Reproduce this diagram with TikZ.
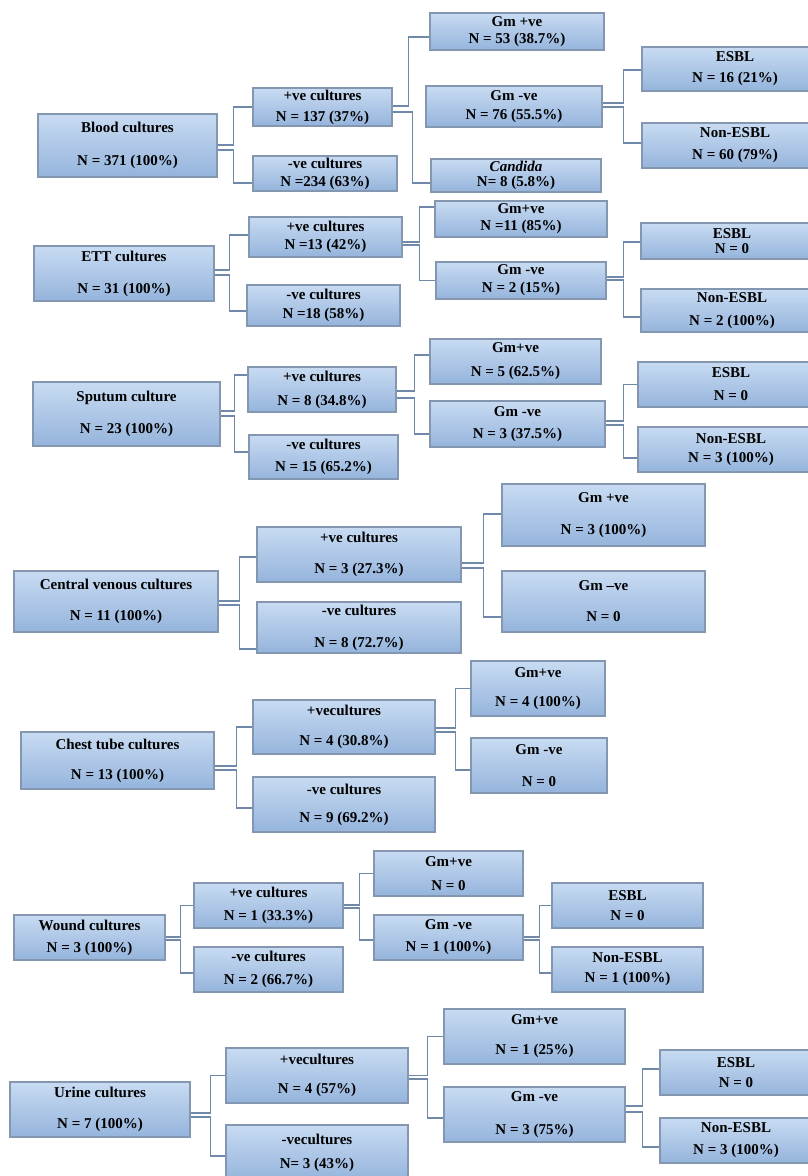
\documentclass[tikz,border=0pt]{standalone}
\usepackage{fontspec}
\setmainfont{Liberation Serif}
\definecolor{boxtop}{HTML}{C8DBF2}
\definecolor{boxbot}{HTML}{95B4DC}
\definecolor{boxline}{HTML}{8497B0}
\definecolor{linkc}{HTML}{7189A8}
\begin{document}
\begin{tikzpicture}[
    x=1pt, y=-1pt,
    box/.style 2 args={draw=boxline, line width=1.1pt, top color=boxtop, bottom color=boxbot,
                minimum width=#1pt, minimum height=#2pt, inner sep=0pt, align=center,
                font=\fontsize{15}{17}\selectfont\bfseries, text=black},
    conn/.style={draw=linkc, line width=1.5pt},
    elbow/.style={to path={-- ++(#1,0) |- (\tikztotarget)}},
]
\useasboundingbox (0,0) rectangle (807,1176);

% Blood cultures
\node[box={179}{63}] (b0) at (127.5,145.5) {Blood cultures\\[16pt]N = 371 (100\%)};
\node[box={139}{38}] (b1) at (322.5,107)   {+ve cultures\\[4pt]N = 137 (37\%)};
\node[box={144}{35}] (b2) at (325,173.5)   {-ve cultures\\[1pt]N =234 (63\%)};
\node[box={174}{37}] (b3) at (517,31.5)    {Gm +ve\\N = 53 (38.7\%)};
\node[box={176}{41}] (b4) at (514,106.5)   {Gm -ve\\[2pt]N = 76 (55.5\%)};
\node[box={170}{33}] (b5) at (516,175.5)   {\textit{Candida}\\[-2pt]N= 8 (5.8\%)};
\node[box={186}{44}] (b6) at (735,69)      {ESBL\\[4pt]N = 16 (21\%)};
\node[box={186}{45}] (b7) at (735,145.5)   {Non-ESBL\\[5pt]N = 60 (79\%)};
\draw[conn] ([yshift=0.5pt]b0.east) to[elbow=16] (b1.west);
\draw[conn] ([yshift=-4.5pt]b0.east) to[elbow=16] ([yshift=-9.5pt]b2.west);
\draw[conn] ([yshift=1pt]b1.east) to[elbow=16] ([yshift=-5.5pt]b3.west);
\draw[conn] ([yshift=-5pt]b1.east) to[elbow=20] ([yshift=-7.5pt]b5.west);
\draw[conn] ([yshift=3.5pt]b4.east) to[elbow=21] ([yshift=-1pt]b6.west);
\draw[conn] ([yshift=-0.5pt]b4.east) to[elbow=21] ([yshift=2.5pt]b7.west);

% ETT cultures
\node[box={180}{55}] (e0) at (124,273.5)   {ETT cultures\\[15pt]N = 31 (100\%)};
\node[box={153}{40}] (e1) at (325.5,237)   {+ve cultures\\[1pt]N =13 (42\%)};
\node[box={153}{41}] (e2) at (323.5,305.5) {-ve cultures\\[2pt]N =18 (58\%)};
\node[box={172}{36}] (e3) at (521,219)     {Gm+ve\\N =11 (85\%)};
\node[box={170}{37}] (e4) at (521,280.5)   {Gm -ve\\[1pt]N = 2 (15\%)};
\node[box={182}{36}] (e5) at (732,241)     {ESBL\\[-2pt]N = 0};
\node[box={182}{43}] (e6) at (732,310.5)   {Non-ESBL\\[6pt]N = 2 (100\%)};
\draw[conn] ([yshift=3.5pt]e0.east) to[elbow=15] ([yshift=2pt]e1.west);
\draw[conn] ([yshift=-1.5pt]e0.east) to[elbow=15] ([yshift=-5.5pt]e2.west);
\draw[conn] ([yshift=-5pt]e1.east) to[elbow=17] ([yshift=12pt]e3.west);
\draw[conn] ([yshift=-8pt]e1.east) to[elbow=17] (e4.west);
\draw[conn] ([yshift=3.5pt]e4.east) to[elbow=17] ([yshift=-1pt]e5.west);
\draw[conn] ([yshift=0.5pt]e4.east) to[elbow=17] ([yshift=-6.5pt]e6.west);

% Sputum culture
\node[box={187}{64}] (s0) at (126.5,414)   {Sputum culture\\[15pt]N = 23 (100\%)};
\node[box={148}{45}] (s1) at (322,389.5)   {+ve cultures\\[7pt]N = 8 (34.8\%)};
\node[box={149}{44}] (s2) at (323.5,457)   {-ve cultures\\[5pt]N = 15 (65.2\%)};
\node[box={171}{45}] (s3) at (515.5,361.5) {Gm+ve\\[7pt]N = 5 (62.5\%)};
\node[box={175}{46}] (s4) at (517.5,424)   {Gm -ve\\[5pt]N = 3 (37.5\%)};
\node[box={186}{45}] (s5) at (731,384.5)   {ESBL\\[6pt]N = 0};
\node[box={186}{45}] (s6) at (731,449.5)   {Non-ESBL\\[2pt]N = 3 (100\%)};
\draw[conn] ([yshift=3pt]s0.east) to[elbow=14] ([yshift=14.5pt]s1.west);
\draw[conn] ([yshift=-2pt]s0.east) to[elbow=14] ([yshift=5pt]s2.west);
\draw[conn] ([yshift=-1.5pt]s1.east) to[elbow=18] ([yshift=6.5pt]s3.west);
\draw[conn] ([yshift=-8.5pt]s1.east) to[elbow=18] ([yshift=-10pt]s4.west);
\draw[conn] ([yshift=3pt]s4.east) to[elbow=18] (s5.west);
\draw[conn] ([yshift=-1pt]s4.east) to[elbow=18] ([yshift=-8.5pt]s6.west);

% Central venous cultures
\node[box={204}{61}] (c0) at (116,601.5)   {Central venous cultures\\[14pt]N = 11 (100\%)};
\node[box={204}{55}] (c1) at (359,554.5)   {+ve cultures\\[14pt]N = 3 (27.3\%)};
\node[box={204}{51}] (c2) at (359,627.5)   {-ve cultures\\[15pt]N = 8 (72.7\%)};
\node[box={203}{62}] (c3) at (603.5,515)   {Gm +ve\\[15pt]N = 3 (100\%)};
\node[box={203}{61}] (c4) at (603.5,601.5) {Gm --ve\\[14pt]N = 0};
\draw[conn] ([yshift=0.5pt]c0.east) to[elbow=21] ([yshift=-2.5pt]c1.west);
\draw[conn] ([yshift=-3.5pt]c0.east) to[elbow=21] ([yshift=-21.5pt]c2.west);
\draw[conn] ([yshift=-8.5pt]c1.east) to[elbow=22] ([yshift=1pt]c3.west);
\draw[conn] ([yshift=-13.5pt]c1.east) to[elbow=22] ([yshift=-15.5pt]c4.west);

% Chest tube cultures
\node[box={193}{57}] (t0) at (117.5,760.5) {Chest tube cultures\\[13pt]N = 13 (100\%)};
\node[box={182}{54}] (t1) at (344,727)     {+vecultures\\[13pt]N = 4 (30.8\%)};
\node[box={182}{55}] (t2) at (344,804.5)   {-ve cultures\\[11pt]N = 9 (69.2\%)};
\node[box={134}{55}] (t3) at (538,688.5)   {Gm+ve\\[12pt]N = 4 (100\%)};
\node[box={136}{55}] (t4) at (539,765.5)   {Gm -ve\\[15pt]N = 0};
\draw[conn] ([yshift=-5.5pt]t0.east) to[elbow=22] (t1.west);
\draw[conn] ([yshift=-9.5pt]t0.east) to[elbow=22] ([yshift=-3.5pt]t2.west);
\draw[conn] ([yshift=-1pt]t1.east) to[elbow=20] (t3.west);
\draw[conn] ([yshift=-5pt]t1.east) to[elbow=20] ([yshift=-4.5pt]t4.west);

% Wound cultures
\node[box={151}{45}] (w0) at (89.5,937.5)  {Wound cultures\\[5pt]N = 3 (100\%)};
\node[box={149}{45}] (w1) at (268.5,905.5) {+ve cultures\\[6pt]N = 1 (33.3\%)};
\node[box={149}{45}] (w2) at (268.5,969.5) {-ve cultures\\[6pt]N = 2 (66.7\%)};
\node[box={149}{45}] (w3) at (448.5,873.5) {Gm+ve\\[7pt]N = 0};
\node[box={149}{45}] (w4) at (448.5,937.5) {Gm -ve\\[5pt]N = 1 (100\%)};
\node[box={151}{45}] (w5) at (627.5,905.5) {ESBL\\[3pt]N = 0};
\node[box={151}{45}] (w6) at (627.5,969.5) {Non-ESBL\\[3pt]N = 1 (100\%)};
\draw[conn] ([yshift=0.5pt]w0.east) to[elbow=15] (w1.west);
\draw[conn] ([yshift=-2.5pt]w0.east) to[elbow=15] ([yshift=-3.5pt]w2.west);
\draw[conn] ([yshift=0.5pt]w1.east) to[elbow=16] (w3.west);
\draw[conn] ([yshift=-2.5pt]w1.east) to[elbow=16] ([yshift=-2.5pt]w4.west);
\draw[conn] ([yshift=0.5pt]w4.east) to[elbow=16] (w5.west);
\draw[conn] ([yshift=-2.5pt]w4.east) to[elbow=16] ([yshift=-3.5pt]w6.west);

% Urine cultures
\node[box={180}{55}] (u0) at (100,1109.5)   {Urine cultures\\[14pt]N = 7 (100\%)};
\node[box={182}{55}] (u1) at (317,1075.5)   {+vecultures\\[12pt]N = 4 (57\%)};
\node[box={182}{55}] (u2) at (317,1152.5)   {-vecultures\\[7pt]N= 3 (43\%)};
\node[box={181}{55}] (u3) at (534.5,1036.5) {Gm+ve\\[13pt]N = 1 (25\%)};
\node[box={181}{55}] (u4) at (534.5,1114.5) {Gm -ve\\[16pt]N = 3 (75\%)};
\node[box={152}{45}] (u5) at (736,1072.5)   {ESBL\\[3pt]N = 0};
\node[box={152}{45}] (u6) at (736,1140.5)   {Non-ESBL\\[5pt]N = 3 (100\%)};
\draw[conn] ([yshift=-3.5pt]u0.east) to[elbow=20] (u1.west);
\draw[conn] ([yshift=-7.5pt]u0.east) to[elbow=20] ([yshift=-3.5pt]u2.west);
\draw[conn] (u1.east) to[elbow=19] (u3.west);
\draw[conn] ([yshift=-3.5pt]u1.east) to[elbow=19] ([yshift=-3.5pt]u4.west);
\draw[conn] ([yshift=8.5pt]u4.east) to[elbow=17] ([yshift=3.5pt]u5.west);
\draw[conn] ([yshift=2.5pt]u4.east) to[elbow=17] ([yshift=-6.5pt]u6.west);
\end{tikzpicture}
\end{document}
